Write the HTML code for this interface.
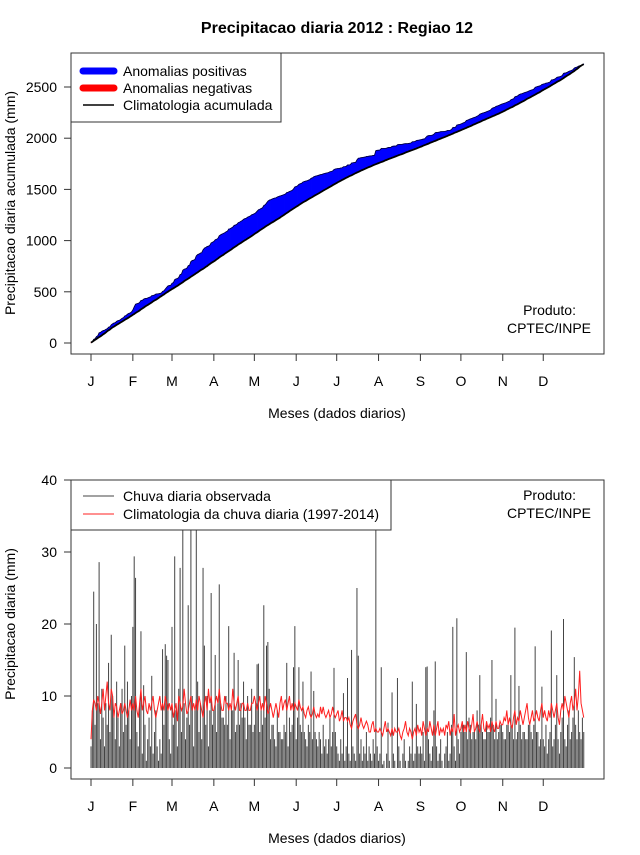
<!DOCTYPE html>
<html><head><meta charset="utf-8">
<style>
body{margin:0;background:#fff;}
svg text{font-family:"Liberation Sans",sans-serif;fill:#000;}
</style></head>
<body>
<svg id="chart" width="640" height="850" viewBox="0 0 640 850" xmlns="http://www.w3.org/2000/svg">
<defs><clipPath id="clipTop"><rect x="71" y="53" width="533" height="301"/></clipPath>
<clipPath id="clipBot"><rect x="71" y="480" width="533" height="299"/></clipPath></defs>
<text x="337" y="33" font-size="16" font-weight="bold" text-anchor="middle">Precipitacao diaria 2012 : Regiao 12</text>
<g id="top"></g>
<g id="bot"></g>
</svg>
<script>
const monthLabels=["J","F","M","A","M","J","J","A","S","O","N","D"];
const monthStartDays=[1,32,61,92,122,153,183,214,245,275,306,336];
const topTicks=[0,500,1000,1500,2000,2500];
const botTicks=[0,10,20,30,40];
const obsJan=[3,8,24.5,6,20,9,28.6,4,11,7,3,9,6,14.6,5,18.5,10,8,4,12,7,3,9,11,5,17,6,12,8,4,10];
const obsFeb=[19.6,29.4,26.4,5,3,9,19,2,11.5,6,1,4,7,3,12.8,2,5,8,3,1,4,2,16.5,6,17.2,15.6,15,4,2];
const obsMar=[19.6,6,29.4,8,3,11,27.8,5,38,9,4,7,22.6,6,36,10,3,8,35,12,5,9,4,27.8,17,6,10,3,8,24.3,6];
const obsApr=[8,15.7,5,9,25.5,9,7,7,6,10,6,19.7,4,8,8,16,5,6,15,6,9,7,12,7,4,10,6,6,11,5];
const obsMay=[6,9,14.4,14.5,5,8,6,22.6,7,17,17.5,11,4,6,6,4,3,8,5,5,4,4,6,5,14.6,3,7,5,6,14,19.7];
const obsJun=[4,7,14,6,5,12,5,4,3,6,5,13.4,4,10.7,5,4,3,5,4,2,6,3,4,2,4,7,3,5,13.9,5];
const obsJul=[3,2,1,4,2,10.4,1,3,12.5,2,1,16.4,3,2,1,25,15.6,2,4,1,3,2,5,1,3,2,1,4,2,45,3];
const obsAug=[1,2,14,0.5,1,0,2,6.3,1,0,10.5,2,1,0,12.5,3,1,0,2,4,1,0,1,3,2,12,1,2,8.9,3,2];
const obsSep=[3,2,5,1,14,14.1,4,2,1,3,8,14.8,3,1,2,4,1,0,2,3,5,1,2,6,19.6,3,1,20.8,4,2];
const obsOct=[5,6,6,5,16.1,4,7,6,4,5,5,4,8,6,12.9,6,5,4,4,6,5,5,7,15,6,4,9.6,4,5,6,6];
const obsNov=[5,4,4,6,6,5,12.9,6,4,19.5,4,5,11.4,6,4,5,5,4,4,6,6,5,4,6,16.9,5,5,3,4,11.3];
const obsDec=[4,3,6,2,4,5,19.1,3,4,6,12.9,4,2,5,7,20.7,4,3,6,8,4,5,7,15.4,6,4,8,5,4,7,5];
const climJan=[4,8,9.5,9,8,10,9,7.5,9,11,8,10,12,9,8,11,10,7,9,8.5,7,8,9,7.5,8,9,8,7,8,9.5,8];
const climFeb=[9,8,10,8,7,9,11,8,9,10,8,7.5,9,8,9,10,8,7,8,9,10,8,9,8,10,9,8,9,8];
const climMar=[9,7,8,9,6.5,10,9,8,8.5,11,9,7.5,8,9,10,8,9,8,9.5,8,10,9,8,7,9,10,8,11,9,10,8];
const climApr=[8,9,10,9,11,9,8,8,10,9,9,8,9,8,11,9,8,9,10,8,8,9,9,8,8,9,8,8,9,9];
const climMay=[10,9,8,9,10,8,9,8,10,9,7.5,8,9,8,7,8,9,8,7,9,10,8,9,9.5,8,9,10,8,9,8,9];
const climJun=[8.5,8,9.5,8.5,8,8.5,7.5,7,8,8.5,7.5,7,7.5,8.5,7.5,7,7.5,7,8.5,7.5,8.5,7.5,7,7.5,8,7,7.5,8.5,7.5,7];
const climJul=[7.5,8,6.5,7,8,6.5,7,7,6.5,7,6,5.5,6.5,7,7.5,6,5.5,6,7,6,5.5,6,6.5,6,5,5,6,6.5,5,5.5,5];
const climAug=[5,5.5,5,4.5,5.5,6.5,5,5.5,5,4.5,5.5,4.5,5.5,5,5,5.5,4.5,4,5,5.5,6.5,5,4.5,5.5,5,4,5,5.5,4.5,6,5];
const climSep=[5.5,4.5,6.5,5.5,4.5,5.5,5,6.5,5.5,4.5,6,4.5,5.5,6.5,4.5,5.5,5,5.5,4.5,6,5.5,6.5,4.5,5.5,5,7.5,4.5,5.5,6,5];
const climOct=[5.5,6.5,5,6,5,6.5,5.5,5,6,7.5,5,5.5,6.5,5.5,5,6,7.5,5.5,5,6.5,5.5,6,5,6.5,5.5,5,6.5,5.5,5.5,6.5,6];
const climNov=[6,7,6.5,8,6,7,6,5.5,7,8,6,7,6.5,8,7,6,7,8,9,7,6,7,8,6.5,7,8,7,6.5,8,9];
const climDec=[7,8,7,6.5,8,7,9,8,7,8,9,7,6,8,9,8,10,9,8,7,9,10,8,9,11,8,10,13.5,9,8,7];

const obs=[].concat(obsJan,obsFeb,obsMar,obsApr,obsMay,obsJun,obsJul,obsAug,obsSep,obsOct,obsNov,obsDec);
const clim=[].concat(climJan,climFeb,climMar,climApr,climMay,climJun,climJul,climAug,climSep,climOct,climNov,climDec);
const NS="http://www.w3.org/2000/svg";
function mk(p,tag,attrs){const e=document.createElementNS(NS,tag);for(const k in attrs)e.setAttribute(k,attrs[k]);p.appendChild(e);return e;}
const xS=d=>91+(d-1)*1.35;
const yTop=v=>343-v*0.1024;
const yBot=v=>768-v*7.2;

const cumO=[],cumC=[];let so=0,sc=0;
for(let i=0;i<obs.length;i++){so+=obs[i];sc+=clim[i];cumO.push(so);cumC.push(sc);}

function axes(g,top,yS,ticks,bottomY,ytitle,ytitleY){
  const box=mk(g,'rect',{x:71,y:top,width:533,height:bottomY-top,fill:'none',stroke:'#333','stroke-width':1});
  
  
  ticks.forEach(t=>{
    const y=yS(t);
    const l=mk(g,'line',{x1:64,x2:71,y1:y,y2:y,stroke:'#333'});
    
    
    const tx=mk(g,'text',{x:57,y:y+5,'font-size':14,'text-anchor':'end'});tx.textContent=t;
    
    
  });
  monthStartDays.forEach((d,i)=>{
    const x=xS(d);
    const l=mk(g,'line',{x1:x,x2:x,y1:bottomY,y2:bottomY+7,stroke:'#333'});
    
    
    const tx=mk(g,'text',{x:x,y:bottomY+32,'font-size':14,'text-anchor':'middle'});tx.textContent=monthLabels[i];
    
    
  });
  const xt=mk(g,'text',{x:337,y:bottomY+64,'font-size':14,'text-anchor':'middle'});xt.textContent='Meses (dados diarios)';
  
  
  const yt=mk(g,'text',{x:0,y:0,'font-size':14,'text-anchor':'middle',transform:`translate(15,${ytitleY}) rotate(-90)`});yt.textContent=ytitle;
  
  
}

// TOP PANEL
const gt=document.getElementById('top');
const areaG=mk(gt,'g',{'clip-path':'url(#clipTop)'});


for(let i=0;i<cumO.length-1;i++){
  const pos=(cumO[i]+cumO[i+1])>=(cumC[i]+cumC[i+1]);
  const pts=`${xS(i+1)},${yTop(cumO[i])} ${xS(i+2)},${yTop(cumO[i+1])} ${xS(i+2)},${yTop(cumC[i+1])} ${xS(i+1)},${yTop(cumC[i])}`;
  const q=mk(areaG,'polygon',{points:pts,fill:pos?'#0000ff':'#ff0000',stroke:pos?'#0000ff':'#ff0000','stroke-width':0.6});
  
  
}
const obsLine=mk(areaG,'polyline',{points:cumO.map((v,i)=>xS(i+1)+','+yTop(v)).join(' '),fill:'none',stroke:'#000033','stroke-width':0.8});


const climLine=mk(areaG,'polyline',{points:cumC.map((v,i)=>xS(i+1)+','+yTop(v)).join(' '),fill:'none',stroke:'#000','stroke-width':1.8});


axes(gt,53,yTop,topTicks,354,'Precipitacao diaria acumulada (mm)',203);
const lg=mk(gt,'g',{});


mk(lg,'rect',{x:71,y:53,width:210,height:69,fill:'#fff',stroke:'#333'});
[['Anomalias positivas','#0000ff',7],['Anomalias negativas','#ff0000',7],['Climatologia acumulada','#000',1.5]].forEach((e,i)=>{
  const y=71+i*17;
  const l=mk(lg,'line',{x1:83,x2:114,y1:y,y2:y,stroke:e[1],'stroke-width':e[2],'stroke-linecap':e[2]>2?'round':'butt'});
  
  
  const t=mk(lg,'text',{x:123,y:y+5,'font-size':14});t.textContent=e[0];
  
  
});
const p1=mk(gt,'text',{x:576,y:315,'font-size':14,'text-anchor':'end'});p1.textContent='Produto:';


const p2=mk(gt,'text',{x:591,y:333,'font-size':14,'text-anchor':'end'});p2.textContent='CPTEC/INPE';



// BOTTOM PANEL
const gb=document.getElementById('bot');
const barsG=mk(gb,'g',{'clip-path':'url(#clipBot)'});


obs.forEach((v,i)=>{
  const x=xS(i+1);
  const b=mk(barsG,'line',{x1:x,x2:x,y1:yBot(0),y2:yBot(v),stroke:'#444','stroke-width':1});
  
  
});
const redLine=mk(barsG,'polyline',{points:clim.map((v,i)=>xS(i+1)+','+yBot(v)).join(' '),fill:'none',stroke:'#ff2020','stroke-width':1});


axes(gb,480,yBot,botTicks,779,'Precipitacao diaria (mm)',624);
const lg2=mk(gb,'g',{});


mk(lg2,'rect',{x:71,y:480,width:320,height:50,fill:'#fff',stroke:'#333'});
[['Chuva diaria observada','#444'],['Climatologia da chuva diaria (1997-2014)','#ff2020']].forEach((e,i)=>{
  const y=496+i*18;
  const l=mk(lg2,'line',{x1:83,x2:114,y1:y,y2:y,stroke:e[1],'stroke-width':1});
  
  
  const t=mk(lg2,'text',{x:123,y:y+5,'font-size':14});t.textContent=e[0];
  
  
});
const p3=mk(gb,'text',{x:576,y:500,'font-size':14,'text-anchor':'end'});p3.textContent='Produto:';


const p4=mk(gb,'text',{x:591,y:518,'font-size':14,'text-anchor':'end'});p4.textContent='CPTEC/INPE';


</script>
</body></html>
